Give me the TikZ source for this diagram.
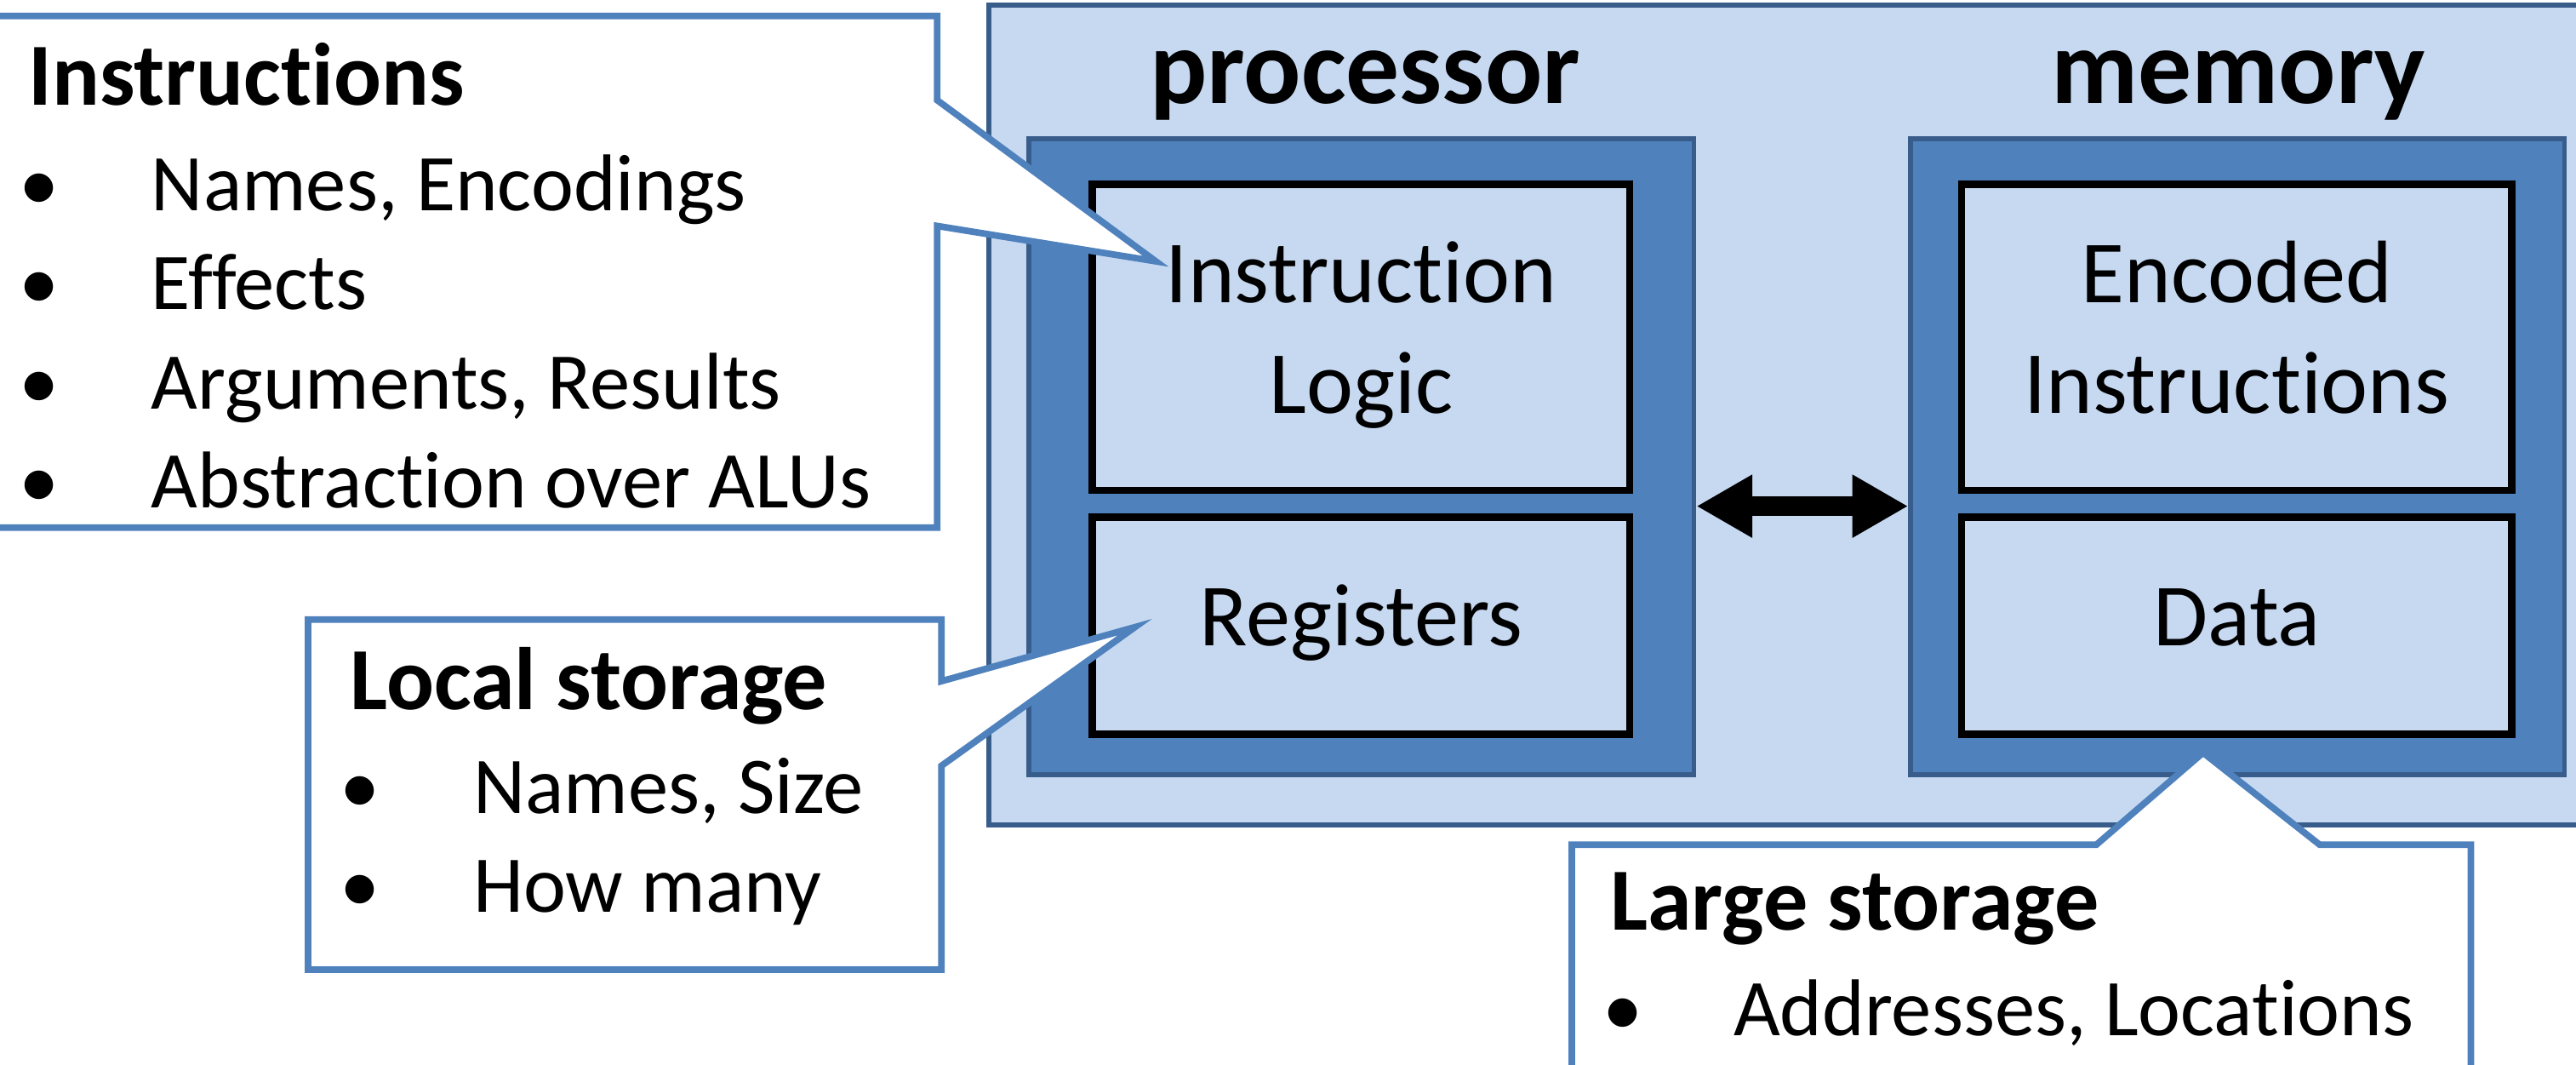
\documentclass[tikz,border=0pt]{standalone}
\usepackage{fontspec}
\setmainfont{Carlito}[Ligatures={NoCommon}]
\usetikzlibrary{arrows.meta}
\definecolor{lightfill}{HTML}{C6D9F1}
\definecolor{midblue}{HTML}{4F81BD}
\definecolor{darkline}{HTML}{385D8A}
\definecolor{callline}{HTML}{4F81BD}
\begin{document}
\begin{tikzpicture}[x=1pt,y=-1pt,
  outerbox/.style={fill=lightfill, draw=darkline, line width=3pt, inner sep=0pt, anchor=north west},
  unitbox/.style={fill=midblue, draw=darkline, line width=3pt, inner sep=0pt},
  partbox/.style={fill=lightfill, draw=black, line width=4.5pt, inner sep=0pt},
  callout/.style={fill=white, draw=callline, line width=4pt, line join=miter},
  heading/.style={font=\fontsize{65}{78}\selectfont\bfseries, inner sep=0pt, anchor=base},
  boxtext/.style={font=\fontsize{54}{65}\selectfont, inner sep=0pt, anchor=base},
  ctitle/.style={font=\fontsize{54}{65}\selectfont\bfseries, inner sep=0pt, anchor=base west},
  citem/.style={font=\fontsize{49}{59}\selectfont, inner sep=0pt, anchor=base west},
  cbullet/.style={font=\fontsize{49}{59}\selectfont, inner sep=0pt, anchor=base},
  link/.style={line width=12pt, {Triangle[length=34pt,width=36pt]}-{Triangle[length=34pt,width=36pt]}}
]
\useasboundingbox (0,0) rectangle (1568,648);

% system background
\node[outerbox, minimum width=990pt, minimum height=499pt] (sys) at (600.5,1.5) {};

% processor and memory units
\node[unitbox, minimum width=405pt, minimum height=387pt] (proc) at (828.6,278) {};
\node[unitbox, minimum width=398pt, minimum height=387pt] (mem) at (1362,278) {};

% parts
\node[partbox, minimum width=327pt, minimum height=186pt] (il) at (828.5,205.3) {};
\node[partbox, minimum width=327pt, minimum height=132pt] (reg) at (828.5,380.6) {};
\node[partbox, minimum width=335pt, minimum height=186pt] (enc) at (1361.5,205.3) {};
\node[partbox, minimum width=335pt, minimum height=132pt] (dat) at (1361.5,380.6) {};

% headings
\node[heading] (hproc) at (831,63) {processor};
\node[heading] (hmem) at (1362.5,63) {memory};

% part texts
\node[boxtext] (il1) at (828.5,184.4) {Instruction};
\node[boxtext] (il2) at (828.5,251.7) {Logic};
\node[boxtext] (reg1) at (828.5,393) {Registers};
\node[boxtext] (enc1) at (1361.5,184.4) {Encoded};
\node[boxtext] (enc2) at (1361.5,251.7) {Instructions};
\node[boxtext] (dat1) at (1361.5,393) {Data};

% bus arrow
\draw[link] ([yshift=-30pt]proc.east) -- ([yshift=-30pt]mem.west);

% callout: Instructions
\draw[callout] (-10,9.7) -- (570.5,9.7) -- (570.5,61) -- (703.5,159) -- (570.5,137.5) -- (570.5,321) -- (-10,321) -- cycle;
\node[ctitle] (t1) at (17,64) {Instructions};
\node[cbullet] (b11) at (24,128) {•};
\node[citem] (i11) at (92,128) {Names, Encodings};
\node[cbullet] (b12) at (24,188.5) {•};
\node[citem] (i12) at (92,188.5) {Effects};
\node[cbullet] (b13) at (24,249) {•};
\node[citem] (i13) at (92,249) {Arguments, Results};
\node[cbullet] (b14) at (24,309) {•};
\node[citem] (i14) at (92,309) {Abstraction over ALUs};

% callout: Local storage
\draw[callout] (187.5,377) -- (573,377) -- (573,414.5) -- (690.8,381.6) -- (573,466) -- (573,590) -- (187.5,590) -- cycle;
\node[ctitle] (t2) at (213,432) {Local storage};
\node[cbullet] (b21) at (219,495) {•};
\node[citem] (i21) at (288,495) {Names, Size};
\node[cbullet] (b22) at (219,555) {•};
\node[citem] (i22) at (288,555) {How many};

% callout: Large storage
\draw[callout] (956.7,514) -- (1276,514) -- (1341,458) -- (1412,514) -- (1504,514) -- (1504,665) -- (956.7,665) -- cycle;
\node[ctitle] (t3) at (980,566) {Large storage};
\node[cbullet] (b31) at (988,630) {•};
\node[citem] (i31) at (1055,630) {Addresses, Locations};
\end{tikzpicture}
\end{document}
